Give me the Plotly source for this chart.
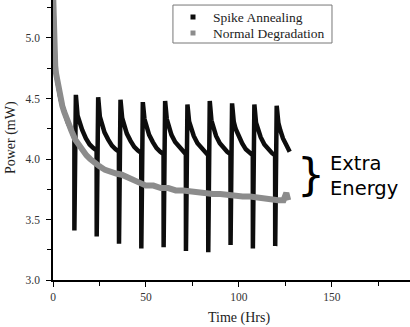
import plotly.graph_objects as go

# ---- Normal degradation (gray) ----
norm_t = [0, 0.4, 0.8, 1.2, 1.6, 2, 3, 4, 5, 6, 7, 8, 10, 12, 14, 16, 18, 20, 22, 25, 28, 31,
          34, 37, 40, 43, 46, 50, 54, 58, 62, 66, 70, 74, 78, 82, 86, 90, 94, 98, 102, 106,
          110, 114, 118, 121, 124, 125.5, 126.5]
norm_p = [5.40, 5.05, 4.86, 4.77, 4.71, 4.67, 4.58, 4.50, 4.44, 4.39, 4.34, 4.30, 4.23, 4.16,
          4.11, 4.07, 4.03, 4.00, 3.97, 3.94, 3.91, 3.89, 3.88, 3.87, 3.85, 3.82, 3.80, 3.78,
          3.78, 3.76, 3.76, 3.74, 3.74, 3.73, 3.72, 3.72, 3.71, 3.71, 3.70, 3.70, 3.69, 3.69,
          3.68, 3.67, 3.67, 3.66, 3.66, 3.72, 3.66]

# ---- Spike annealing (black) ----
pre_t = [0, 0.4, 0.8, 1.2, 1.6, 2, 3, 4, 5, 6, 7, 8, 10, 11.5]
pre_p = [5.40, 5.05, 4.86, 4.77, 4.71, 4.67, 4.58, 4.50, 4.44, 4.39, 4.34, 4.30, 4.23, 4.17]
spike_times = [11.5, 23.5, 35.5, 47.5, 59.5, 71.5, 83.5, 95.5, 107.5, 119.5]
spike_min = [3.41, 3.36, 3.30, 3.26, 3.27, 3.24, 3.23, 3.29, 3.26, 3.28]
decay_offsets = [0.8, 1.7, 2.7, 4.2, 6.2, 8.2, 10.2, 11.95]
decay_values = [
    [4.53, 4.36, 4.30, 4.24, 4.17, 4.12, 4.09, 4.07],
    [4.51, 4.35, 4.29, 4.22, 4.16, 4.11, 4.08, 4.06],
    [4.49, 4.34, 4.28, 4.21, 4.15, 4.10, 4.07, 4.05],
    [4.47, 4.33, 4.27, 4.20, 4.14, 4.09, 4.06, 4.04],
    [4.48, 4.33, 4.27, 4.20, 4.14, 4.10, 4.06, 4.04],
    [4.45, 4.31, 4.26, 4.19, 4.13, 4.09, 4.05, 4.03],
    [4.48, 4.32, 4.26, 4.19, 4.13, 4.09, 4.06, 4.04],
    [4.46, 4.31, 4.25, 4.19, 4.13, 4.08, 4.05, 4.03],
    [4.45, 4.30, 4.25, 4.18, 4.12, 4.08, 4.05, 4.03],
    [4.44, 4.30, 4.24, 4.17, 4.11],
]
last_end_t = 127.3
last_end_p = 4.06

spike_x = list(pre_t)
spike_y = list(pre_p)
for T, mn, vals in zip(spike_times, spike_min, decay_values):
    spike_x.append(T)
    spike_y.append(mn)
    for off, v in zip(decay_offsets, vals):
        spike_x.append(T + off)
        spike_y.append(v)
spike_x.append(last_end_t)
spike_y.append(last_end_p)

legend_names = ["Spike Annealing", "Normal Degradation"]

BLACK = "#0d0d0d"
GRAY = "#8c8c8c"
SERIF = "Liberation Serif"

fig = go.Figure()
fig.add_trace(go.Scatter(x=spike_x, y=spike_y, mode="lines", name=legend_names[0],
                         line=dict(color=BLACK, width=4.5), showlegend=False))
fig.add_trace(go.Scatter(x=norm_t, y=norm_p, mode="lines", name=legend_names[1],
                         line=dict(color=GRAY, width=6), showlegend=False))

axis_common = dict(showline=True, linecolor="black", linewidth=1.5, showgrid=False,
                   zeroline=False, ticks="outside", ticklen=5, tickwidth=1.2,
                   tickcolor="black", tickfont=dict(family=SERIF, size=11.5, color="#333"))

fig.update_xaxes(range=[0, 192], tickvals=[0, 50, 100, 150],
                 minor=dict(tickvals=[25, 75, 125, 175], ticklen=4, tickcolor="black",
                            ticks="outside"),
                 **axis_common)
fig.update_yaxes(range=[3.0, 5.314], tickvals=[3.0, 3.5, 4.0, 4.5, 5.0], tickformat=".1f",
                 minor=dict(tickvals=[3.25, 3.75, 4.25, 4.75, 5.25], ticklen=4,
                            tickcolor="black", ticks="outside"),
                 ticklabelstandoff=4,
                 **axis_common)

# axis titles
fig.add_annotation(text="Power (mW)", xref="paper", yref="paper", x=-0.118, y=0.51,
                   xanchor="center", yanchor="middle",
                   textangle=-90, showarrow=False,
                   font=dict(family=SERIF, size=14, color="#222"))
fig.add_annotation(text="Time (Hrs)", xref="x", yref="paper", x=100, y=-0.136,
                   xanchor="center", yanchor="middle",
                   showarrow=False, font=dict(family=SERIF, size=14, color="#222"))

# manual legend (box, square markers, labels)
fig.add_shape(type="rect", xref="paper", yref="paper", x0=0.336, x1=0.7815,
              y0=0.8464, y1=0.982, line=dict(color="#777", width=1), fillcolor="white",
              layer="above")
for i, (name, col) in enumerate(zip(legend_names, [BLACK, GRAY])):
    yc = 1 - (17 + 16 * i) / 280
    fig.add_shape(type="rect", xref="paper", yref="paper",
                  x0=(190.5 - 53) / 357, x1=(195.5 - 53) / 357,
                  y0=yc - 2.5 / 280, y1=yc + 2.5 / 280,
                  line=dict(width=0), fillcolor=col, layer="above")
    fig.add_annotation(text=name, xref="paper", yref="paper", x=(211 - 53) / 357, y=yc,
                       xanchor="left", yanchor="middle", showarrow=False,
                       font=dict(family=SERIF, size=13.5, color="#222"))

# "Extra Energy" label with brace
fig.add_annotation(text="}", xref="paper", yref="paper", x=(311 - 53) / 357,
                   y=1 - 174 / 280, xanchor="center", yanchor="middle",
                   showarrow=False, font=dict(family="DejaVu Sans", size=44, color="black"))
fig.add_annotation(text="Extra<br>Energy", xref="paper", yref="paper", x=(328 - 53) / 357,
                   y=1 - 176 / 280, xanchor="left", yanchor="middle", align="left",
                   showarrow=False,
                   font=dict(family="DejaVu Sans", size=19.5, color="black"))

fig.update_layout(
    width=410, height=327,
    margin=dict(l=53, r=0, t=0, b=47),
    paper_bgcolor="white", plot_bgcolor="white",
    showlegend=False,
)

fig.write_html("out.html")
